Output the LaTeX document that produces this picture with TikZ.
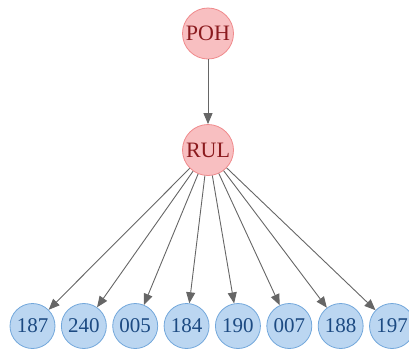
\documentclass[tikz,border=0pt]{standalone}
\usepackage{fontspec}
\setmainfont{Liberation Serif}
\usetikzlibrary{arrows.meta}
\definecolor{pinkfill}{HTML}{F8BFC1}
\definecolor{pinkline}{HTML}{F08A8C}
\definecolor{pinktext}{HTML}{8B1A1E}
\definecolor{bluefill}{HTML}{BBD6F1}
\definecolor{blueline}{HTML}{72A7DB}
\definecolor{bluetext}{HTML}{1C4A82}
\definecolor{edgegray}{HTML}{666666}
\begin{document}
\begin{tikzpicture}[x=1pt,y=-1pt,
  top/.style={circle,fill=pinkfill,draw=pinkline,line width=0.8pt,minimum size=51pt,inner sep=0pt,text=pinktext,font=\fontsize{22}{24}\selectfont},
  leaf/.style={circle,fill=bluefill,draw=blueline,line width=0.8pt,minimum size=45pt,inner sep=0pt,text=bluetext,font=\fontsize{21}{24}\selectfont},
  edge/.style={draw=edgegray,line width=0.9pt,-{Triangle[length=11pt,width=9pt]}}]
  \useasboundingbox (0,0) rectangle (409,349);

  % upper part
  \node[top] (poh) at (208,33.5) {POH};
  \node[top] (rul) at (208,150) {RUL};
  \draw[edge] (poh) -- (rul);

  % leaves
  \foreach \lbl [count=\i] in {187,240,005,184,190,007,188,197}{
    \node[leaf] (n\i) at ({32.5+51.36*(\i-1)},326) {\lbl};
    \draw[edge] (rul) -- (n\i);
  }
\end{tikzpicture}
\end{document}
